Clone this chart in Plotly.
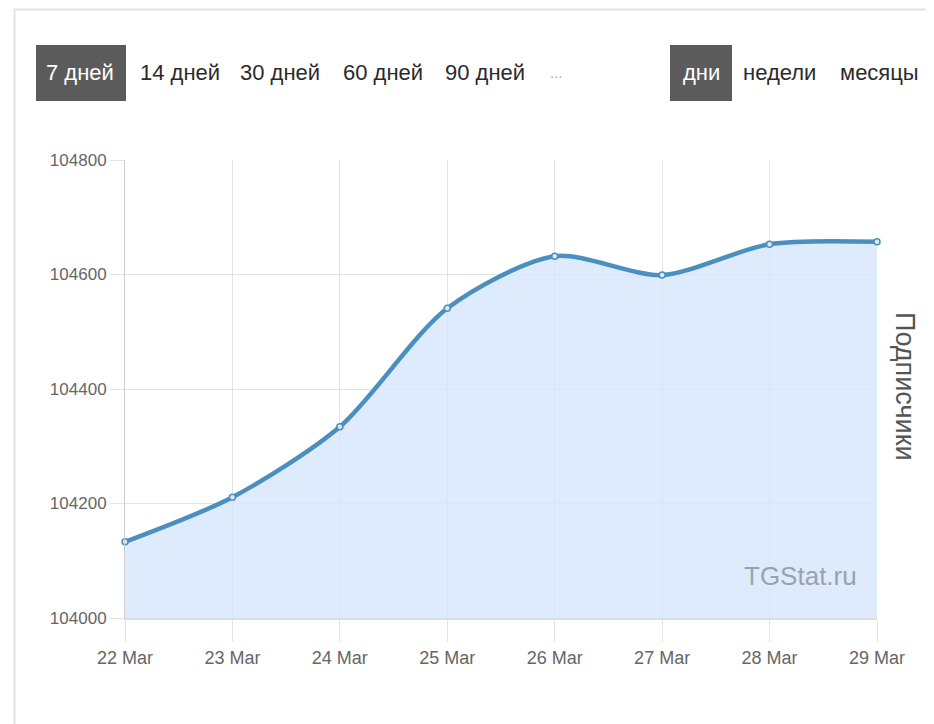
import plotly.graph_objects as go

dates = ["22 Mar", "23 Mar", "24 Mar", "25 Mar", "26 Mar", "27 Mar", "28 Mar", "29 Mar"]
subscribers = [104133, 104211, 104334, 104541, 104632, 104599, 104653, 104657]
y_ticks = [104000, 104200, 104400, 104600, 104800]
period_buttons = ["7 дней", "14 дней", "30 дней", "60 дней", "90 дней", "..."]
scale_buttons = ["дни", "недели", "месяцы"]

FONT = "Liberation Sans, Arial, sans-serif"

# screen-pixel layout helpers (plot area: x 124..876, y 160..618 on screen)
PL, PR, PT, PB = 124, 876, 160, 618
def px(x):
    return (x - PL) / (PR - PL)
def py(y):
    return (PB - y) / (PB - PT)

fig = go.Figure()
fig.add_trace(go.Scatter(
    x=list(range(len(dates))), y=subscribers,
    mode="lines+markers",
    line=dict(color="#4a8fbf", width=4.5, shape="spline", smoothing=0.8),
    marker=dict(size=6, color="#dbe9f8", line=dict(color="#4a8fbf", width=1.5)),
    fill="tozeroy", fillcolor="rgba(214,230,251,0.8)",
    hoverinfo="skip", showlegend=False, cliponaxis=False,
))

period_x = [79, 179, 279, 382, 484, 555]
scale_x = [700, 778, 878]
annotations = []
shapes = [
    dict(type="line", xref="paper", yref="paper", x0=px(13.5), x1=px(13.5), y0=py(9), y1=py(740),
         line=dict(color="#e2e2e2", width=2), layer="below"),
    dict(type="line", xref="paper", yref="paper", x0=px(13), x1=px(960), y0=py(9.5), y1=py(9.5),
         line=dict(color="#e2e2e2", width=2), layer="below"),
    dict(type="rect", xref="paper", yref="paper", x0=px(35), x1=px(125), y0=py(45), y1=py(101),
         fillcolor="#5b5b5b", line=dict(width=0), layer="below"),
    dict(type="rect", xref="paper", yref="paper", x0=px(669), x1=px(731), y0=py(45), y1=py(101),
         fillcolor="#5b5b5b", line=dict(width=0), layer="below"),
]
for i, (t, x) in enumerate(zip(period_buttons, period_x)):
    annotations.append(dict(
        text=t, x=px(x), y=py(73), xref="paper", yref="paper",
        showarrow=False, xanchor="center", yanchor="middle",
        font=dict(family=FONT, size=15 if t == "..." else 22,
                  color="#ffffff" if i == 0 else ("#aaaaaa" if t == "..." else "#2a2a2a")),
    ))
for i, (t, x) in enumerate(zip(scale_buttons, scale_x)):
    annotations.append(dict(
        text=t, x=px(x), y=py(73), xref="paper", yref="paper",
        showarrow=False, xanchor="center", yanchor="middle",
        font=dict(family=FONT, size=22, color="#ffffff" if i == 0 else "#2a2a2a"),
    ))
annotations.append(dict(
    text="Подписчики", x=px(904), y=py(387), xref="paper", yref="paper",
    showarrow=False, textangle=90, xanchor="center", yanchor="middle",
    font=dict(family=FONT, size=27, color="#555555"),
))
annotations.append(dict(
    text="TGStat.ru", x=px(858), y=py(576), xref="paper", yref="paper",
    showarrow=False, xanchor="right", yanchor="middle",
    font=dict(family=FONT, size=26, color="#9aa3ad"),
))

fig.update_layout(
    width=934, height=724,
    margin=dict(l=117, r=65, t=152, b=114),
    paper_bgcolor="#ffffff", plot_bgcolor="#ffffff",
    annotations=annotations,
    shapes=shapes,
    xaxis=dict(
        range=[0, len(dates) - 1], tickmode="array",
        tickvals=list(range(len(dates))), ticktext=dates,
        showgrid=True, gridcolor="#e3e3e3", gridwidth=1,
        ticks="outside", ticklen=22, tickcolor="#e3e3e3",
        showline=True, linecolor="#dddddd", linewidth=2,
        zeroline=False,
        tickfont=dict(family=FONT, size=18, color="#666666"),
    ),
    yaxis=dict(
        range=[104000, 104800], tickmode="array", tickvals=y_ticks,
        ticktext=[str(v) for v in y_ticks],
        showgrid=True, gridcolor="#e3e3e3", gridwidth=1,
        ticks="outside", ticklen=14, tickcolor="#e3e3e3",
        showline=True, linecolor="#cccccc", linewidth=1,
        zeroline=False,
        tickfont=dict(family=FONT, size=17, color="#666666"),
    ),
)

fig.write_html("out.html")
